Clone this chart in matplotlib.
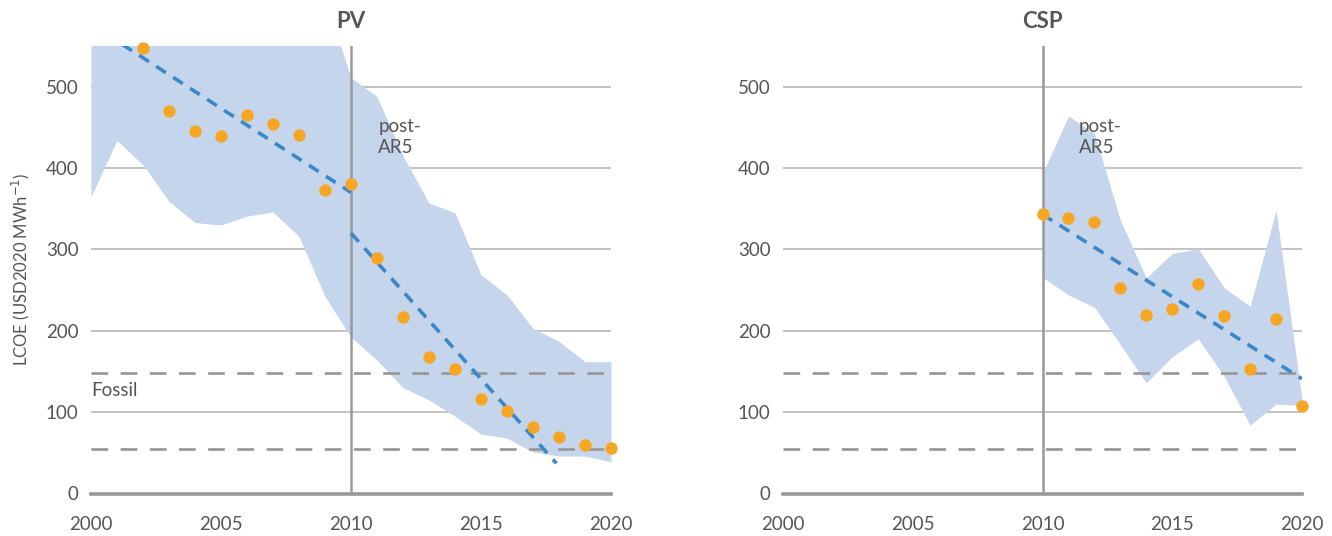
import matplotlib.pyplot as plt

plt.rcParams['font.family'] = ['Lato', 'DejaVu Sans']

# PV: yearly LCOE points and min/max range
pv_years = [2000, 2001, 2002, 2003, 2004, 2005, 2006, 2007, 2008, 2009, 2010,
            2011, 2012, 2013, 2014, 2015, 2016, 2017, 2018, 2019, 2020]
pv_upper = [640, 640, 640, 630, 630, 630, 625, 620, 615, 610, 511,
            488, 415, 357, 345, 269, 244, 203, 187, 162, 162]
pv_lower = [365, 434, 404, 359, 333, 330, 341, 346, 316, 242, 192,
            164, 130, 115, 95, 73, 68, 51, 46, 46, 39]
pv_point_years = [2002, 2003, 2004, 2005, 2006, 2007, 2008, 2009, 2010,
                  2011, 2012, 2013, 2014, 2015, 2016, 2017, 2018, 2019, 2020]
pv_points = [547, 470, 445, 440, 465, 454, 441, 373, 380,
             289, 217, 168, 153, 116, 102, 82, 69, 60, 56]
pv_trend_pre_x = [2001.2, 2010]
pv_trend_pre_y = [552, 370]
pv_trend_post_x = [2010, 2017.9]
pv_trend_post_y = [320, 37]

# CSP
csp_years = [2010, 2011, 2012, 2013, 2014, 2015, 2016, 2017, 2018, 2019, 2020]
csp_upper = [393, 464, 443, 336, 265, 295, 301, 253, 230, 348, 116]
csp_lower = [266, 244, 229, 183, 136, 168, 190, 144, 84, 110, 108]
csp_points = [343, 339, 334, 252, 220, 227, 257, 218, 153, 214, 108]
csp_trend_x = [2010, 2020]
csp_trend_y = [343, 141]

fossil_range = [55, 148]
grid_levels = [100, 200, 300, 400, 500]
ytick_vals = [0, 100, 200, 300, 400, 500]
xtick_vals = [2000, 2005, 2010, 2015, 2020]

band_color = '#c5d5ec'
dot_color = '#f6a623'
trend_color = '#3d87c8'
line_gray = '#999999'
text_gray = '#555555'

fig = plt.figure(figsize=(13.32, 5.36), dpi=100)
ax_pv = fig.add_axes([91 / 1332, 42.5 / 536, 520 / 1332, 447.5 / 536])
ax_csp = fig.add_axes([783 / 1332, 42.5 / 536, 519 / 1332, 447.5 / 536])


def base_axes(ax, title):
    ax.set_xlim(2000, 2020)
    ax.set_ylim(0, 550)
    for s in ax.spines.values():
        s.set_visible(False)
    ax.hlines(grid_levels, 2000, 2020, color='#bdbdbd', lw=1.3, zorder=1)
    ax.axhline(0, color=line_gray, lw=2.6, zorder=6, clip_on=False)
    ax.hlines(fossil_range, 2000, 2019.8, color=line_gray, lw=2.0,
              linestyles=(0, (6, 4.5)), zorder=3)
    ax.axvline(2010, color=line_gray, lw=1.8, zorder=3)
    ax.set_yticks(ytick_vals)
    ax.set_xticks(xtick_vals)
    ax.tick_params(length=0, labelsize=13.5, colors=text_gray)
    ax.tick_params(axis='x', pad=16)
    ax.tick_params(axis='y', pad=9)
    ax.set_title(title, fontsize=16, fontweight='bold', color=text_gray, pad=13)
    ax.text(2011.05 if title == 'PV' else 2011.4, 462, 'post-\nAR5', fontsize=13.5,
            color=text_gray, va='top', ha='left', linespacing=1.3, zorder=7)


base_axes(ax_pv, 'PV')
ax_pv.fill_between(pv_years, pv_lower, pv_upper, color=band_color, lw=0, zorder=2)
ax_pv.plot(pv_trend_pre_x, pv_trend_pre_y, color=trend_color, lw=2.6,
           ls=(0, (3.2, 2.4)), zorder=4)
ax_pv.plot(pv_trend_post_x, pv_trend_post_y, color=trend_color, lw=2.6,
           ls=(0, (3.2, 2.4)), zorder=4)
ax_pv.scatter(pv_point_years, pv_points, s=80, color=dot_color, zorder=5,
              clip_on=False, linewidths=0)
ax_pv.text(2000, 127, 'Fossil', fontsize=13.5, color=text_gray, va='center', ha='left')
ax_pv.set_ylabel(r'LCOE (USD2020 MWh$^{-1}$)', fontsize=12, color=text_gray, labelpad=10)

base_axes(ax_csp, 'CSP')
ax_csp.fill_between(csp_years, csp_lower, csp_upper, color=band_color, lw=0, zorder=2)
ax_csp.plot(csp_trend_x, csp_trend_y, color=trend_color, lw=2.6,
            ls=(0, (3.2, 2.4)), zorder=4)
ax_csp.scatter(csp_years, csp_points, s=80, color=dot_color, zorder=5,
               clip_on=False, linewidths=0)

fig.savefig('out.png', dpi=100)
